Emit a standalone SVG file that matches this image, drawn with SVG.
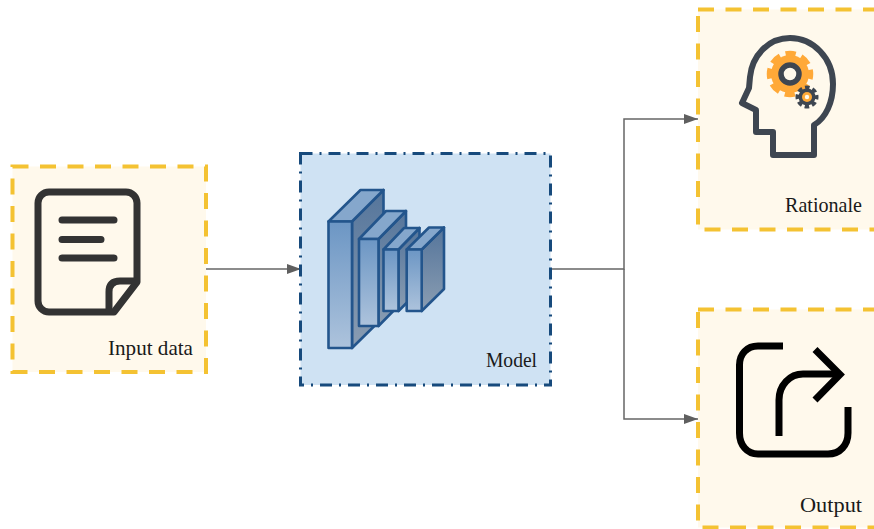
<svg xmlns="http://www.w3.org/2000/svg" width="874" height="529" viewBox="0 0 874 529">
<style>
.box{fill:#fff9ec;stroke:#f4c232;stroke-width:4;stroke-dasharray:16 11.5}
.lbl{font-family:"Liberation Serif","Times New Roman",serif;font-size:21px;fill:#1a1a1a;text-anchor:end}
.edge{fill:none;stroke:#666;stroke-width:1.5}
.front{fill:url(#gf)}.top{fill:#85a7cc}.side{fill:url(#gs)}
.cub *{stroke:#23558c;stroke-width:2.600;stroke-linejoin:round}
</style>
<defs>
<linearGradient id="gf" x1="0" y1="0" x2="0" y2="1"><stop offset="0" stop-color="#6c96c4"/><stop offset="1" stop-color="#adc3dc"/></linearGradient>
<linearGradient id="gs" x1="0" y1="0" x2="0" y2="1"><stop offset="0" stop-color="#55759b"/><stop offset="1" stop-color="#8a9db2"/></linearGradient>
<marker id="arr" markerWidth="14" markerHeight="12" refX="14" refY="6" orient="auto" markerUnits="userSpaceOnUse"><path d="M0 1L14 6L0 11Z" fill="#5f5f5f"/></marker>
</defs>
<rect width="874" height="529" fill="#fff"/>
<g id="connectors">
<path class="edge" d="M206 269H301" marker-end="url(#arr)"/>
<path class="edge" d="M550 269H624V119H698" marker-end="url(#arr)"/>
<path class="edge" d="M624 269V419H698" marker-end="url(#arr)"/>
</g>
<g id="input-data">
<rect class="box" x="12.500" y="166.500" width="193.500" height="205.500"/>
<path d="M114 312H49a11 11 0 0 1-11-11V203a11 11 0 0 1 11-11H126a11 11 0 0 1 11 11V282Z" fill="none" stroke="#333" stroke-width="7" stroke-linejoin="round"/>
<path d="M137 281H120q-11 0-11 11V311" fill="none" stroke="#333" stroke-width="7" stroke-linejoin="round"/>
<path d="M62 220H114M62 239.500H101M62 258H114" fill="none" stroke="#333" stroke-width="7" stroke-linecap="round"/>
<text class="lbl" x="193" y="355" textLength="85" lengthAdjust="spacingAndGlyphs">Input data</text>
</g>
<g id="model">
<rect x="300.500" y="153.500" width="250" height="231.500" fill="#cfe2f3" stroke="#174a7c" stroke-width="3" stroke-dasharray="12 7 2 7"/>
<g class="cub">
<path class="side" d="M352 221.500L383.500 190V317L352 348Z"/><path class="top" d="M328.500 221.500L360.500 190H383.500L352 221.500Z"/><rect class="front" x="328.500" y="221.500" width="23.500" height="126.500"/>
<path class="side" d="M378.500 239L406 211V298L378.500 326Z"/><path class="top" d="M359 239L386 211H406L378.500 239Z"/><rect class="front" x="359" y="239" width="19.500" height="87"/>
<path class="side" d="M398.500 249.500L419.500 228V290L398.500 311Z"/><path class="top" d="M383.500 249.500L404 228H419.500L398.500 249.500Z"/><rect class="front" x="383.500" y="249.500" width="15" height="61.500"/>
<path class="side" d="M421.700 249.500L444 227.500V289L421.700 311Z"/><path class="top" d="M406.700 249.500L429 227.500H444L421.700 249.500Z"/><rect class="front" x="406.700" y="249.500" width="15" height="61.500"/>
</g>
<text class="lbl" x="537" y="367" textLength="51" lengthAdjust="spacingAndGlyphs">Model</text>
</g>
<g id="rationale">
<rect class="box" x="698" y="9.500" width="190" height="220"/>
<path d="M814 155V125C826 118 833 102 833 84C833 58 813 38 790 38C768 38 752 56 750 77L749 88L742 103L756 110V132H773V155Z" fill="none" stroke="#3e4651" stroke-width="6" stroke-linejoin="round"/>
<circle cx="790" cy="74" r="19" fill="#ffa938"/>
<circle cx="790" cy="74" r="20" fill="none" stroke="#ffa938" stroke-width="6.500" stroke-dasharray="10 5.710" stroke-dashoffset="5"/>
<circle cx="790" cy="74" r="9" fill="#fff9ec" stroke="#3e4651" stroke-width="5.500"/>
<circle cx="807" cy="97" r="8.500" fill="#3e4651"/>
<circle cx="807" cy="97" r="9.500" fill="none" stroke="#3e4651" stroke-width="4" stroke-dasharray="4.500 2.960" stroke-dashoffset="2.250"/>
<circle cx="807" cy="97" r="5" fill="#ffa938"/>
<circle cx="807" cy="97" r="2.200" fill="#fff9ec"/>
<text class="lbl" x="862" y="212" textLength="77" lengthAdjust="spacingAndGlyphs">Rationale</text>
</g>
<g id="output">
<rect class="box" x="698" y="309.500" width="190" height="218"/>
<path d="M783 346H758C747 346 739.500 354 739.500 365V433C739.500 445 747 454 758 454H828C840 454 848 445 848 433V407" fill="none" stroke="#000" stroke-width="7"/>
<path d="M779 436V400C779 385 790 374 803 374H840" fill="none" stroke="#000" stroke-width="7"/>
<path d="M815 349.500L840 374.500L815 400" fill="none" stroke="#000" stroke-width="7"/>
<text class="lbl" x="862" y="512" textLength="62" lengthAdjust="spacingAndGlyphs">Output</text>
</g>
</svg>
